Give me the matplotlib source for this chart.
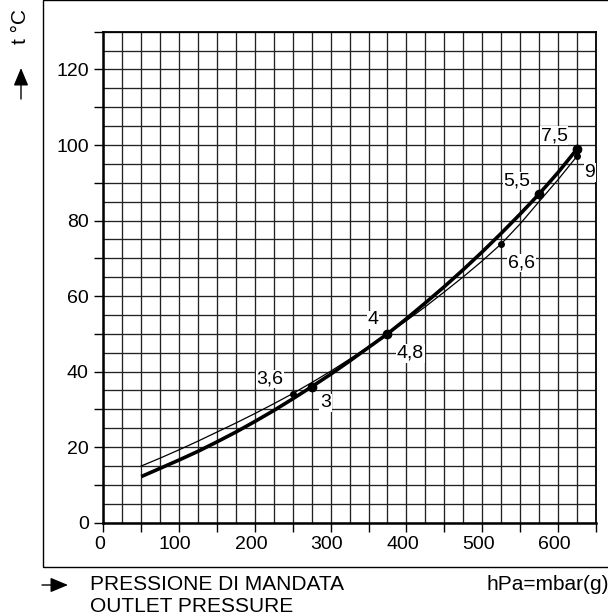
import numpy as np
import matplotlib
matplotlib.use('Agg')
import matplotlib.pyplot as plt
import matplotlib.transforms as mtransforms
from matplotlib.patches import Rectangle, FancyArrowPatch

plt.rcParams['font.family'] = ['Liberation Sans', 'DejaVu Sans']

# curva spessa
p_thick = [50, 75, 100, 125, 150, 175, 200, 225, 250, 275, 300, 325,
           350, 375, 400, 425, 450, 475, 500, 525, 550, 575, 600, 625]
t_thick = [12.2, 14.4, 16.6, 18.9, 21.4, 24.0, 26.8, 29.7, 32.8, 36.0, 39.3, 42.8,
           46.4, 50.0, 54.0, 58.2, 62.5, 67.0, 71.7, 76.6, 81.7, 87.0, 92.7, 98.9]

# curva sottile
p_thin = [50, 75, 100, 125, 150, 175, 200, 225, 250, 275, 300, 325,
          350, 375, 400, 425, 450, 475, 500, 525, 550, 575, 600, 625]
t_thin = [15.0, 17.1, 19.3, 21.6, 24.0, 26.4, 28.9, 31.5, 34.2, 37.1, 40.1, 43.3,
          46.6, 50.0, 53.5, 57.2, 61.1, 65.1, 69.3, 73.8, 79.1, 85.0, 90.8, 97.0]

# punti marcati
pts_thick_p = [275, 375, 575, 625]
pts_thick_t = [36.0, 50.0, 87.0, 98.9]
pts_thick_lab = ['3', '4', '5,5', '7,5']
lab_thick_xy = [(293, 31.7), (356, 53.7), (546, 90.5), (595, 102.5)]

pts_thin_p = [250, 375, 525, 625]
pts_thin_t = [34.2, 50.0, 73.8, 97.0]
pts_thin_lab = ['3,6', '4,8', '6,6', '9']
lab_thin_xy = [(220, 38.0), (405, 44.8), (552, 68.8), (642, 92.7)]

fig = plt.figure(figsize=(6.08, 6.16), dpi=100)
ax = fig.add_axes([0.170, 0.1515, 0.810, 0.797])

# griglia
for gx in np.arange(0, 651, 25):
    ax.axvline(gx, color='#222222', lw=0.95, zorder=1)
for gy in np.arange(0, 131, 5):
    ax.axhline(gy, color='#222222', lw=0.95, zorder=1)

ax.plot(p_thin, t_thin, color='black', lw=0.9, zorder=3)
ax.plot(p_thick, t_thick, color='black', lw=2.6, zorder=4, solid_capstyle='butt')
ax.plot(pts_thin_p, pts_thin_t, 'o', color='black', ms=4, zorder=5)
ax.plot(pts_thick_p, pts_thick_t, 'o', color='black', ms=6, zorder=5)

for lab, (x, y) in zip(pts_thick_lab + pts_thin_lab, lab_thick_xy + lab_thin_xy):
    ax.text(x, y, lab, fontsize=14, ha='center', va='center', zorder=6,
            bbox=dict(facecolor='white', edgecolor='none', pad=0.5))

ax.set_xlim(0, 650)
ax.set_ylim(0, 130)
ax.set_xticks(np.arange(0, 601, 100))
ax.set_xticks(np.arange(0, 651, 50), minor=True)
ax.set_yticks(np.arange(0, 121, 20))
ax.set_yticks(np.arange(0, 131, 10), minor=True)
ax.tick_params(which='both', direction='out', length=6.5, width=1.0, labelsize=14)
ax.tick_params(axis='x', pad=3)
ax.tick_params(axis='y', pad=4)

offset = mtransforms.ScaledTranslation(-4 / 100, 0, fig.dpi_scale_trans)
for lb in ax.get_xticklabels():
    lb.set_transform(lb.get_transform() + offset)

for side in ['left', 'bottom']:
    ax.spines[side].set_linewidth(1.8)
for side in ['top', 'right']:
    ax.spines[side].set_linewidth(1.3)

# cornice esterna
fig.patches.append(Rectangle((43 / 608, 1 - 567.3 / 616), 0.99, 567 / 616,
                             transform=fig.transFigure, fill=False,
                             edgecolor='black', lw=1.0))

# etichetta asse y
fig.text(21 / 608, 1 - 27 / 616, 't °C', rotation=90, fontsize=15,
         ha='center', va='center')
fig.add_artist(FancyArrowPatch(
    (21 / 608, 1 - 99 / 616), (21 / 608, 1 - 68 / 616),
    transform=fig.transFigure, arrowstyle='-|>,head_length=0.6,head_width=0.25',
    mutation_scale=18, color='black', lw=1.0, shrinkA=0, shrinkB=0))

# etichetta asse x
fig.add_artist(FancyArrowPatch(
    (42 / 608, 1 - 585 / 616), (68 / 608, 1 - 585 / 616),
    transform=fig.transFigure, arrowstyle='-|>,head_length=0.6,head_width=0.25',
    mutation_scale=18, color='black', lw=1.0, shrinkA=0, shrinkB=0))
fig.text(90 / 608, 1 - 585 / 616, 'PRESSIONE DI MANDATA', fontsize=15,
         ha='left', va='center')
fig.text(90 / 608, 1 - 606.5 / 616, 'OUTLET PRESSURE', fontsize=15,
         ha='left', va='center')
fig.text(486 / 608, 1 - 585 / 616, 'hPa=mbar(g)', fontsize=15,
         ha='left', va='center')

fig.savefig('out.png', dpi=100)
